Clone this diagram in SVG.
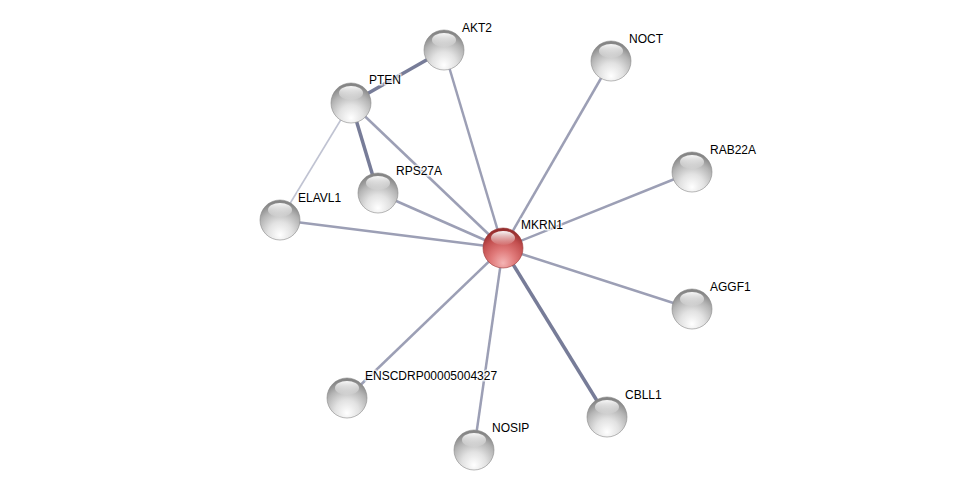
<svg xmlns="http://www.w3.org/2000/svg" width="976" height="495" viewBox="0 0 976 495">
<defs>
<radialGradient id="gGray" cx="50%" cy="80%" r="75%" fx="50%" fy="88%">
<stop offset="0" stop-color="#ffffff"/>
<stop offset="0.4" stop-color="#e2e2e2"/>
<stop offset="0.75" stop-color="#b4b4b4"/>
<stop offset="1" stop-color="#858585"/>
</radialGradient>
<radialGradient id="gRed" cx="50%" cy="80%" r="75%" fx="50%" fy="88%">
<stop offset="0" stop-color="#f4b4b4"/>
<stop offset="0.4" stop-color="#e07a7a"/>
<stop offset="0.75" stop-color="#c45050"/>
<stop offset="1" stop-color="#962e2e"/>
</radialGradient>
<linearGradient id="gHi" x1="0" y1="0" x2="0" y2="1">
<stop offset="0" stop-color="#ffffff" stop-opacity="0.95"/>
<stop offset="1" stop-color="#ffffff" stop-opacity="0.05"/>
</linearGradient>
<g id="hl"><ellipse cx="0" cy="-10" rx="12" ry="7" fill="url(#gHi)"/></g>
</defs>
<style>
.e{stroke:#9c9fb5;stroke-width:2.5;fill:none}
.t{stroke:#777c98;stroke-width:3.5;fill:none}
.l{stroke:#c0c3d2;stroke-width:1.6;fill:none}
.n{fill:url(#gGray);stroke:#8a8a8a;stroke-width:0.6}
.r{fill:url(#gRed);stroke:#9a3a3a;stroke-width:0.6}
text{font-family:"Liberation Sans",Arial,sans-serif;font-size:12px;fill:#000;stroke:#ffffff;stroke-width:3;stroke-opacity:0.7;paint-order:stroke}
</style>
<rect width="976" height="495" fill="#ffffff"/>
<g id="edges">
<line class="e" x1="503" y1="248" x2="444" y2="50"/>
<line class="e" x1="503" y1="248" x2="351" y2="103"/>
<line class="e" x1="503" y1="248" x2="378" y2="193"/>
<line class="e" x1="503" y1="248" x2="280" y2="220"/>
<line class="e" x1="503" y1="248" x2="611" y2="61"/>
<line class="e" x1="503" y1="248" x2="692" y2="172"/>
<line class="e" x1="503" y1="248" x2="692" y2="309"/>
<line class="t" x1="503" y1="248" x2="607" y2="417"/>
<line class="e" x1="503" y1="248" x2="474" y2="450"/>
<line class="e" x1="503" y1="248" x2="347" y2="398"/>
<line class="t" x1="351" y1="103" x2="444" y2="50"/>
<line class="t" x1="351" y1="103" x2="378" y2="193"/>
<line class="l" x1="351" y1="103" x2="280" y2="220"/>
</g>
<g id="node-AKT2"><circle class="n" cx="444" cy="50" r="20"/><use href="#hl" x="444" y="50"/><text x="462" y="32">AKT2</text></g>
<g id="node-PTEN"><circle class="n" cx="351" cy="103" r="20"/><use href="#hl" x="351" y="103"/><text x="369" y="84">PTEN</text></g>
<g id="node-RPS27A"><circle class="n" cx="378" cy="193" r="20"/><use href="#hl" x="378" y="193"/><text x="396" y="175">RPS27A</text></g>
<g id="node-ELAVL1"><circle class="n" cx="280" cy="220" r="20"/><use href="#hl" x="280" y="220"/><text x="298" y="202">ELAVL1</text></g>
<g id="node-NOCT"><circle class="n" cx="611" cy="61" r="20"/><use href="#hl" x="611" y="61"/><text x="629" y="43">NOCT</text></g>
<g id="node-RAB22A"><circle class="n" cx="692" cy="172" r="20"/><use href="#hl" x="692" y="172"/><text x="710" y="154">RAB22A</text></g>
<g id="node-AGGF1"><circle class="n" cx="692" cy="309" r="20"/><use href="#hl" x="692" y="309"/><text x="710" y="291">AGGF1</text></g>
<g id="node-CBLL1"><circle class="n" cx="607" cy="417" r="20"/><use href="#hl" x="607" y="417"/><text x="625" y="399">CBLL1</text></g>
<g id="node-NOSIP"><circle class="n" cx="474" cy="450" r="20"/><use href="#hl" x="474" y="450"/><text x="492" y="432">NOSIP</text></g>
<g id="node-ENSCDRP00005004327"><circle class="n" cx="347" cy="398" r="20"/><use href="#hl" x="347" y="398"/><text x="365" y="380">ENSCDRP00005004327</text></g>
<g id="node-MKRN1"><circle class="r" cx="503" cy="248" r="20"/><use href="#hl" x="503" y="248"/><text x="521" y="229">MKRN1</text></g>
</svg>
